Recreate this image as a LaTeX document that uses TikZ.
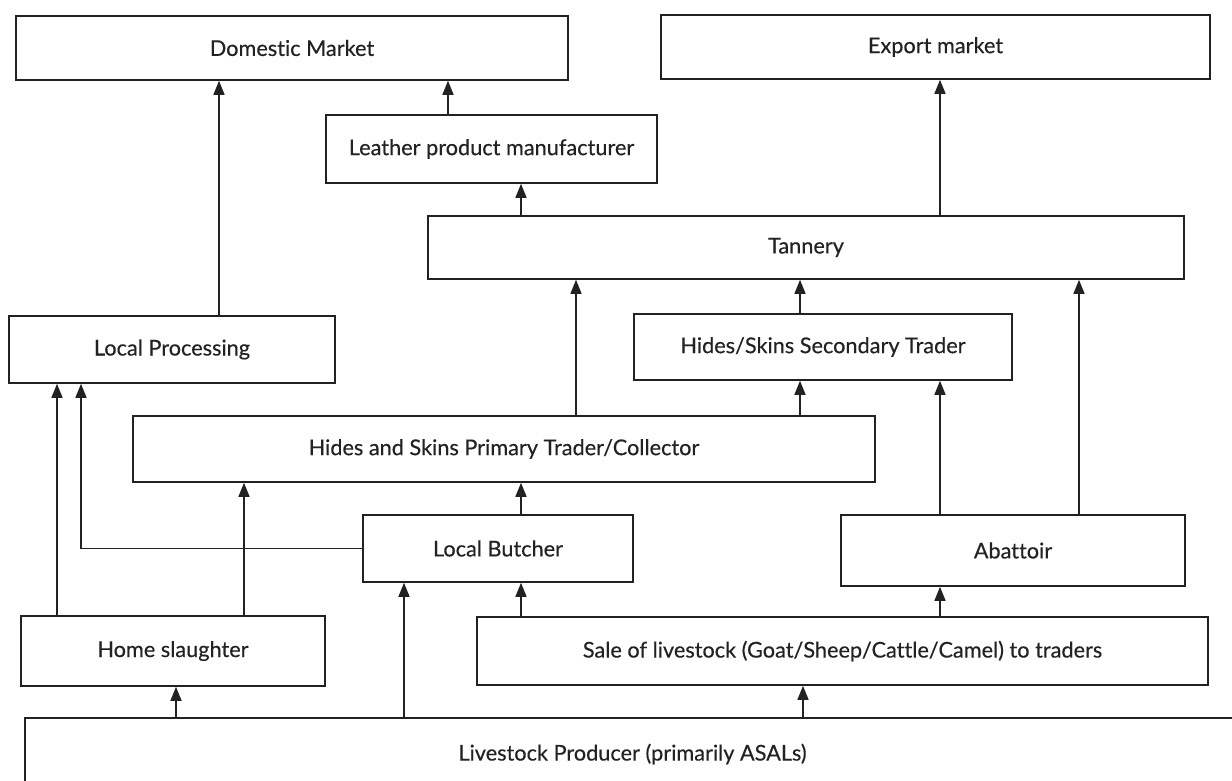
\documentclass[tikz,border=0pt]{standalone}
\usepackage{fontspec}
\setmainfont{Lato}[Ligatures={NoCommon},FakeBold=0.3]
\usetikzlibrary{arrows.meta}
\definecolor{ink}{HTML}{222222}
\tikzset{
  box/.style={draw=ink, line width=1.6pt, rectangle, inner sep=0pt, text=ink,
    font=\fontsize{21.7}{25}\selectfont},
  arr/.style={draw=ink, line width=1.5pt, -{Triangle[length=14pt,width=11pt]}}
}
\begin{document}
\begin{tikzpicture}[x=1pt,y=-1pt]
\clip (0,0) rectangle (1232,781);
\fill[white] (0,0) rectangle (1232,781);
\node[box, minimum width=552pt, minimum height=64pt] (dom) at (292,48) {Domestic Market};
\node[box, minimum width=549pt, minimum height=64pt] (exp) at (935.5,47) {Export market};
\node[box, minimum width=331pt, minimum height=68pt] (leath) at (491.5,149) {Leather product manufacturer};
\node[box, minimum width=756pt, minimum height=63pt] (tan) at (806,247.5) {Tannery};
\node[box, minimum width=326pt, minimum height=67pt] (lp) at (172,349.5) {Local Processing};
\node[box, minimum width=378pt, minimum height=66pt] (sec) at (823,347) {Hides/Skins Secondary Trader};
\node[box, minimum width=742pt, minimum height=66pt] (prim) at (504,449) {Hides and Skins Primary Trader/Collector};
\node[box, minimum width=270pt, minimum height=67pt] (butch) at (498,548.5) {Local Butcher};
\node[box, minimum width=344pt, minimum height=71pt] (abat) at (1013,550.5) {Abattoir};
\node[box, minimum width=304pt, minimum height=70pt] (home) at (173,651) {Home slaughter};
\node[box, minimum width=731pt, minimum height=68pt] (sale) at (842.5,651) {Sale of livestock (Goat/Sheep/Cattle/Camel) to traders};
\node[box, minimum width=1215pt, minimum height=72pt] (prod) at (632.5,754) {Livestock Producer (primarily ASALs)};
% connectors
\draw[arr] (219,0 |- lp.north) -- (219,0 |- dom.south);
\draw[arr] (448,0 |- leath.north) -- (448,0 |- dom.south);
\draw[arr] (521,0 |- tan.north) -- (521,0 |- leath.south);
\draw[arr] (940,0 |- tan.north) -- (940,0 |- exp.south);
\draw[arr] (576,0 |- prim.north) -- (576,0 |- tan.south);
\draw[arr] (800,0 |- sec.north) -- (800,0 |- tan.south);
\draw[arr] (800,0 |- prim.north) -- (800,0 |- sec.south);
\draw[arr] (940,0 |- abat.north) -- (940,0 |- sec.south);
\draw[arr] (1079,0 |- abat.north) -- (1079,0 |- tan.south);
\draw[arr] (57,0 |- home.north) -- (57,0 |- lp.south);
\draw[arr] (butch.west) -- (81,0 |- butch.west) -- (81,0 |- lp.south);
\draw[arr] (244,0 |- home.north) -- (244,0 |- prim.south);
\draw[arr] (521,0 |- butch.north) -- (521,0 |- prim.south);
\draw[arr] (521,0 |- sale.north) -- (521,0 |- butch.south);
\draw[arr] (940,0 |- sale.north) -- (940,0 |- abat.south);
\draw[arr] (176,0 |- prod.north) -- (176,0 |- home.south);
\draw[arr] (404,0 |- prod.north) -- (404,0 |- butch.south);
\draw[arr] (803,0 |- prod.north) -- (803,0 |- sale.south);
\end{tikzpicture}
\end{document}
